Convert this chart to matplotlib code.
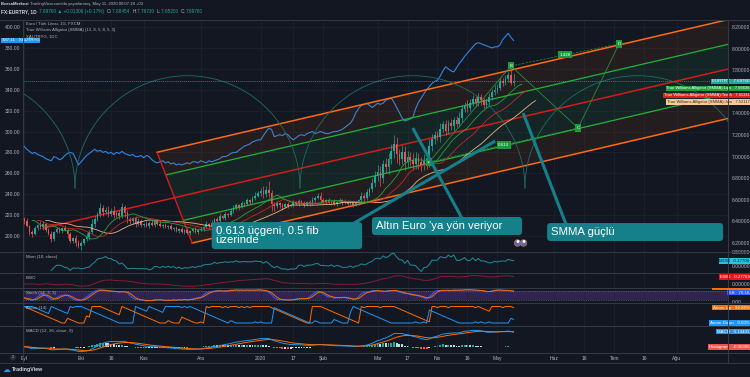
import numpy as np
import pandas as pd
import matplotlib
matplotlib.use("Agg")
import matplotlib.pyplot as plt
import matplotlib.transforms as mtransforms
from matplotlib.patches import FancyBboxPatch, Ellipse, Rectangle
from matplotlib.lines import Line2D

plt.rcParams['font.family'] = ['Liberation Sans', 'DejaVu Sans']

# ---------------- data ----------------
first_day = '2019-09-02'
open_first = 6.42
close = (
    [6.40, 6.36, 6.30, 6.28, 6.34, 6.37, 6.35, 6.38, 6.32, 6.28, 6.24, 6.30, 6.33, 6.31, 6.34, 6.32, 6.28, 6.22, 6.25, 6.20, 6.17]
    + [6.20, 6.24, 6.26, 6.30, 6.38, 6.42, 6.47, 6.52, 6.49, 6.51, 6.47, 6.50, 6.46, 6.48, 6.45, 6.53, 6.48, 6.42, 6.40, 6.43, 6.38, 6.40, 6.37]
    + [6.38, 6.36, 6.39, 6.37, 6.40, 6.38, 6.36, 6.37, 6.35, 6.36, 6.33, 6.34, 6.31, 6.33, 6.30, 6.32, 6.29, 6.31, 6.33, 6.30, 6.32]
    + [6.33, 6.35, 6.38, 6.36, 6.39, 6.42, 6.40, 6.45, 6.43, 6.47, 6.46, 6.50, 6.52, 6.55, 6.53, 6.57, 6.56, 6.60, 6.58, 6.62, 6.64, 6.66]
    + [6.68, 6.65, 6.69, 6.66, 6.56, 6.54, 6.57, 6.55, 6.53, 6.56, 6.54, 6.55, 6.58, 6.56, 6.59, 6.57, 6.55, 6.58, 6.56, 6.60, 6.62, 6.64, 6.60]
    + [6.58, 6.60, 6.57, 6.59, 6.56, 6.58, 6.60, 6.57, 6.59, 6.56, 6.58, 6.55, 6.57, 6.60, 6.64, 6.62, 6.67, 6.70, 6.76, 6.82]
    + [6.86, 6.80, 6.93, 6.90, 6.98, 7.05, 7.12, 7.02, 6.98, 7.04, 6.95, 7.00, 6.97, 6.93, 6.99, 6.95, 6.92, 6.96, 6.94, 7.10, 7.16, 7.20]
    + [7.18, 7.26, 7.30, 7.24, 7.31, 7.28, 7.34, 7.30, 7.36, 7.44, 7.48, 7.45, 7.50, 7.53, 7.50, 7.55, 7.52, 7.48, 7.51, 7.55, 7.60, 7.62]
    + [7.64, 7.70, 7.68, 7.72, 7.76, 7.68454, 7.6976]
)
# wick lengths in kurus (0.01 TRY)
wick_up = (
    [2, 3, 1, 2, 2, 1, 3, 2, 1, 2, 3, 1, 2, 2, 1, 3, 2, 2, 1, 2, 3]
    + [2, 1, 3, 2, 4, 3, 2, 5, 3, 2, 3, 2, 4, 2, 3, 4, 2, 3, 2, 1, 2, 3, 2]
    + [1, 2, 1, 2, 1, 2, 3, 1, 2, 1, 2, 1, 2, 1, 2, 1, 2, 1, 1, 2, 1]
    + [2, 1, 2, 1, 2, 1, 2, 3, 1, 2, 1, 2, 3, 2, 1, 2, 1, 2, 1, 2, 3, 2]
    + [3, 5, 4, 8, 3, 2, 2, 1, 2, 1, 2, 1, 2, 1, 2, 1, 2, 1, 2, 3, 2, 2, 3]
    + [2, 1, 2, 1, 2, 1, 2, 1, 2, 1, 2, 1, 2, 1, 3, 2, 3, 2, 4, 5]
    + [6, 5, 4, 6, 5, 7, 8, 6, 5, 7, 6, 5, 4, 6, 5, 4, 5, 6, 4, 6, 5, 4]
    + [4, 5, 3, 4, 3, 4, 3, 4, 5, 4, 3, 4, 3, 4, 3, 4, 3, 2, 3, 4, 3, 4]
    + [3, 4, 3, 4, 2, 4, 7]
)
wick_dn = (
    [2, 1, 3, 2, 1, 2, 2, 3, 2, 1, 3, 2, 1, 2, 2, 1, 3, 2, 2, 3, 2]
    + [3, 2, 2, 3, 2, 3, 2, 3, 4, 2, 3, 2, 3, 2, 3, 2, 4, 3, 2, 2, 3, 2, 2]
    + [2, 1, 2, 1, 2, 1, 1, 2, 1, 2, 1, 2, 1, 2, 1, 2, 1, 2, 1, 1, 2]
    + [1, 2, 1, 2, 1, 2, 1, 2, 1, 2, 2, 1, 2, 1, 2, 1, 2, 1, 2, 1, 2, 1]
    + [2, 3, 2, 3, 6, 4, 2, 3, 2, 1, 2, 1, 2, 1, 2, 1, 2, 1, 2, 1, 2, 1, 3]
    + [1, 2, 1, 2, 1, 2, 1, 2, 1, 2, 1, 2, 1, 2, 2, 3, 2, 3, 3, 4]
    + [5, 7, 4, 5, 6, 5, 6, 8, 6, 5, 7, 5, 6, 5, 4, 6, 5, 4, 5, 4, 5, 4]
    + [3, 4, 3, 4, 3, 3, 4, 3, 3, 4, 3, 4, 3, 3, 4, 3, 4, 3, 3, 3, 3, 3]
    + [3, 2, 3, 2, 3, 2, 3]
)
# gram gold in TRY (left scale)
gold = [
    286, 283, 281, 279, 280, 278, 277, 276, 274, 273,
    272, 276, 275, 273, 274, 277, 279, 280, 279, 274,
    268, 271, 274, 277, 279, 281, 283, 281, 282, 280,
    281, 279, 280, 278, 280, 279, 281, 279, 278, 277,
    278, 276, 276, 277, 275, 277, 276, 273, 271, 270,
    271, 272, 270, 271, 269, 270, 268, 269, 268, 269,
    270, 269, 271, 271, 270, 272, 271, 270, 272, 271,
    272, 273, 274, 276, 276, 277, 279, 280, 280, 282,
    284, 286, 287, 288, 290, 291, 292, 292, 296, 300,
    303, 302, 295, 296, 297, 296, 298, 297, 294, 292,
    294, 296, 297, 296, 298, 299, 300, 298, 299, 300,
    299, 298, 298, 299, 300, 300, 301, 302, 304, 306,
    308, 312, 318, 322, 325, 326, 327, 325, 323, 325,
    327, 326, 327, 330, 331, 332, 328, 323, 318, 313,
    310, 311, 312, 314, 322, 328, 332, 336, 340, 343,
    346, 348, 349, 353, 358, 362, 360, 358, 357, 361,
    365, 368, 372, 375, 378, 381, 384, 385, 384, 383,
    382, 381, 380, 381, 381, 383, 388, 391, 394, 390,
    387.11,
]
assert len(close) == len(wick_up) == len(wick_dn) == len(gold) == 181

tick_dates = ['2019-09-02', '2019-10-01', '2019-10-16', '2019-11-01', '2019-12-02',
              '2020-01-01', '2020-01-17', '2020-02-03', '2020-03-02', '2020-03-17',
              '2020-04-01', '2020-04-16', '2020-05-01', '2020-06-01', '2020-06-16',
              '2020-07-01', '2020-07-16', '2020-08-03']
tick_labels = ['Eyl', 'Eki', '16', 'Kas', 'Ara', '2020', '17', 'Şub', 'Mar', '17',
               'Nis', '16', 'May', 'Haz', '16', 'Tem', '16', 'Ağu']
price_ticks = [6.2, 6.4, 6.6, 6.8, 7.0, 7.2, 7.4, 7.8, 8.0, 8.2]

# drawings (bar index, price)
fork_p1 = (7.0, 6.337)
fork_p2 = (48.9, 7.040)
fork_p3 = (61.8, 6.200)
cycle_start, cycle_len, cycle_base, cycle_height = 18.75, 82.7, 6.709, 1.04
abcd_bars = [148.9, 179.0, 203.7, 218.75]
abcd_prices = [6.95, 7.84, 7.265, 8.043]
abcd_names = ['A', 'B', 'C', 'D']
abcd_ratios = ['0.613', '1.428']

# last values shown in the scale labels
last_eurtry, last_gold = 7.69760, 387.11
alligator_last = [('Lips', 7.66636), ('Teeth', 7.61311), ('Jaw', 7.52117)]
mom_last, ewo_last, k_last = 0.17700, 0.27769, 70.18
aroon_up_last, aroon_dn_last = 92.86, 0.00
macd_last, hist_last = 0.13431, -0.00385

# ---------------- style ----------------
BG = '#131722'
GRID = '#1f2330'
SEP = '#363a45'
TXT = '#b2b5be'
UP, DN = '#26a69a', '#ef5350'
TEAL_BOX = '#16808a'
W, H = 750, 377
X0, X1 = 22.5, 728

fig = plt.figure(figsize=(W / 100, H / 100), dpi=100, facecolor=BG)


def panel(y0, y1):
    a = fig.add_axes([X0 / W, 1 - y1 / H, (X1 - X0) / W, (y1 - y0) / H])
    a.set_facecolor(BG)
    for s in a.spines.values():
        s.set_visible(False)
    return a


ax = panel(20, 252)
axe = ax.twinx()
for s in axe.spines.values():
    s.set_visible(False)
axm = panel(252, 273)
axw = panel(273, 288)
axs = panel(288, 303)
axa = panel(303, 326)
axc = panel(326, 353)

days = pd.bdate_range(first_day, '2020-08-31')
tick_pos = days.get_indexer(pd.to_datetime(tick_dates))
idx = np.arange(len(close))
xlim = (-0.55, 258.8)

for a in [ax, axe, axm, axw, axs, axa, axc]:
    a.set_xlim(*xlim)
    a.set_xticks(tick_pos)
    a.tick_params(length=0, labelbottom=False, labelsize=3.6, colors=TXT)
for a in [ax, axm, axw, axs, axa, axc]:
    a.grid(axis='x', color=GRID, lw=0.5)
axc.set_xticklabels(tick_labels)
axc.tick_params(axis='x', labelbottom=True, pad=2.5)

# gold (left scale)
ax.set_ylim(184.7, 406.7)
ax.set_yticks(np.arange(200, 401, 20))
ax.yaxis.set_major_formatter('{x:.2f}')
ax.tick_params(axis='y', labelleft=True, pad=1.5)
ax.grid(axis='y', color=GRID, lw=0.5)
ax.plot(idx, gold, color='#2f86e0', lw=0.8, zorder=2)

# EURTRY (right scale)
axe.set_ylim(6.117, 8.265)
axe.set_yticks(price_ticks)
axe.yaxis.set_major_formatter('{x:.5f}')
axe.tick_params(axis='y', labelright=True, labelleft=False, pad=3)

o = np.array([open_first] + close[:-1])
c = np.array(close)
hi = np.maximum(o, c) + np.array(wick_up) / 100
lo = np.minimum(o, c) - np.array(wick_dn) / 100

# pitchfork
p1, p2, p3 = np.array(fork_p1), np.array(fork_p2), np.array(fork_p3)
mid = (p2 + p3) / 2
slope = (mid[1] - p1[1]) / (mid[0] - p1[0])
x_end = 275


def ray_end(pt):
    return np.array([x_end, pt[1] + slope * (x_end - pt[0])])


def lvl(f, side):
    return mid + f * (side - mid)


for f1, f2, col, al in [(0, 0.5, '#2e9e45', 0.10), (0.5, 1.0, '#ff6d00', 0.07)]:
    for side in (p2, p3):
        a1, a2 = lvl(f1, side), lvl(f2, side)
        e1, e2 = ray_end(a1), ray_end(a2)
        axe.fill([a1[0], e1[0], e2[0], a2[0]], [a1[1], e1[1], e2[1], a2[1]],
                 color=col, alpha=al, lw=0, zorder=1)
for f, col, lw in [(0.5, '#22b33a', 0.9), (1.0, '#ff6a13', 1.1)]:
    for side in (p2, p3):
        a1 = lvl(f, side)
        e1 = ray_end(a1)
        axe.plot([a1[0], e1[0]], [a1[1], e1[1]], color=col, lw=lw, zorder=2)
e = ray_end(p1)
axe.plot([p1[0], e[0]], [p1[1], e[1]], color='#d41c1c', lw=1.1, zorder=2)
axe.plot([p2[0], p3[0]], [p2[1], p3[1]], color='#d41c1c', lw=1.0, zorder=2)

# time cycles
t = np.linspace(0, np.pi, 120)
for k in range(-1, 3):
    cx = cycle_start + (k + 0.5) * cycle_len
    axe.plot(cx + cycle_len / 2 * np.cos(t), cycle_base + cycle_height * np.sin(t),
             color='#1f6e66', lw=0.6, zorder=2)

# price line
axe.axhline(last_eurtry, color='#26a69a', lw=0.5, ls=(0, (1.5, 1.5)), zorder=2)

# candles
cols = np.where(c >= o, UP, DN)
axe.vlines(idx, lo, hi, colors=cols, lw=0.5, zorder=3)
axe.bar(idx, np.maximum(np.abs(c - o), 0.004), bottom=np.minimum(o, c), width=0.6,
        color=cols, lw=0, zorder=3)

# alligator (SMMA of hl2)
hl2 = pd.Series((hi + lo) / 2)


def smma(n):
    return hl2.ewm(alpha=1 / n, adjust=False).mean().values


axe.plot(idx + 8, smma(13), color='#e6b88a', lw=0.6, zorder=4)
axe.plot(idx + 5, smma(8), color='#c62828', lw=0.6, zorder=4)
axe.plot(idx + 3, smma(5), color='#2e9e3e', lw=0.6, zorder=4)

# ABCD pattern
ab_col = '#2e8b3e'
axe.plot(abcd_bars, abcd_prices, color=ab_col, lw=0.6, zorder=5)
axe.plot([abcd_bars[0], abcd_bars[2]], [abcd_prices[0], abcd_prices[2]], color=ab_col, lw=0.5, ls='--', zorder=5)
axe.plot([abcd_bars[1], abcd_bars[3]], [abcd_prices[1], abcd_prices[3]], color=ab_col, lw=0.5, ls='--', zorder=5)
for xb, yp, nm in zip(abcd_bars, abcd_prices, abcd_names):
    axe.text(xb, yp, nm, fontsize=3.2, color='white', ha='center', va='center', zorder=6,
             bbox=dict(boxstyle='square,pad=0.35', fc='#1c9b3c', ec='none'))
for (i0, i1), r in zip([(0, 2), (1, 3)], abcd_ratios):
    axe.text((abcd_bars[i0] + abcd_bars[i1]) / 2, (abcd_prices[i0] + abcd_prices[i1]) / 2, r,
             fontsize=3.2, color='white', ha='center', va='center', zorder=6,
             bbox=dict(boxstyle='square,pad=0.35', fc='#1c9b3c', ec='none'))

# callouts: (box bar0, bar1, price0, price1), text, pointer from, pointer to
callouts = [
    ((69.0, 124.3, 6.144, 6.394), '0.613 üçgeni, 0.5 fib\nüzerinde', (121.0, 6.38), (173.2, 7.144)),
    ((127.9, 183.1, 6.274, 6.441), "Altın Euro 'ya yön veriyor", (161.0, 6.43), (142.9, 7.265)),
    ((192.3, 257.0, 6.219, 6.385), 'SMMA güçlü', (199.3, 6.37), (183.5, 7.404)),
]
for (b0, b1, q0, q1), txt, pf, pt in callouts:
    axe.plot([pf[0], pt[0]], [pf[1], pt[1]], color=TEAL_BOX, lw=2.2, solid_capstyle='butt', zorder=7)
    axe.add_patch(FancyBboxPatch((b0, q0), b1 - b0, q1 - q0,
                                 boxstyle='round,pad=0,rounding_size=1.3', mutation_aspect=0.025,
                                 fc=TEAL_BOX, ec='none', zorder=8))
    axe.text(b0 + 1.4, (q0 + q1) / 2, txt, fontsize=8.2, color='white', ha='left', va='center',
             linespacing=0.9, zorder=9)


# scale labels
def rlabel(a, yval, text, bg, fg='white', dy=0, x_px=749.5, ha='right', size=3.2):
    tr = mtransforms.blended_transform_factory(fig.transFigure, a.transData)
    a.annotate(text, xy=(x_px / W, yval), xycoords=tr, xytext=(0, dy), textcoords='offset points',
               ha=ha, va='center', fontsize=size, color=fg, annotation_clip=False, zorder=20,
               bbox=dict(boxstyle='square,pad=0.15', fc=bg, ec='none'))


rlabel(axe, last_eurtry, 'EURTRY   7.69760', '#26a69a')
ali_cols = {'Lips': ('#1e9e3a', 'white'), 'Teeth': ('#e01f1f', 'white'), 'Jaw': ('#f7c99c', '#3a2a1a')}
for k, (nm, v) in enumerate(alligator_last):
    bg, fg = ali_cols[nm]
    rlabel(axe, last_eurtry, f'True Williams Alligator (SMMA):{nm}   {v:.5f}', bg, fg,
           dy=-5.0 * (k + 1), size=3.0)
rlabel(ax, last_gold, f'{last_gold:.2f}   XAUTRYG', '#2196f3', x_px=2, ha='left')

# ---------------- indicators ----------------
cs, hs, ls_ = pd.Series(c), pd.Series(hi), pd.Series(lo)

mom = cs - cs.shift(10)
axm.plot(idx, mom, color='#1f8f99', lw=0.7)
axm.set_ylim(-0.25, 0.5)
axm.set_yticks([0.0, 0.5])
axm.yaxis.set_major_formatter('{x:.5f}')
axm.yaxis.tick_right()
axm.tick_params(axis='y', pad=3)
rlabel(axm, mom_last, 'MOM   0.17700', '#26c6da', fg='#131722')

ewo = cs.rolling(5, min_periods=1).mean() - cs.rolling(35, min_periods=1).mean()
axw.plot(idx, ewo, color='#8a1c30', lw=0.7)
axw.set_ylim(-0.16, 0.44)
axw.set_yticks([0.0])
axw.yaxis.set_major_formatter('{x:.5f}')
axw.yaxis.tick_right()
axw.tick_params(axis='y', pad=3)
rlabel(axw, ewo_last, 'EWO   0.27769', '#f0131e')

ll = ls_.rolling(14, min_periods=1).min()
hh = hs.rolling(14, min_periods=1).max()
k_raw = 100 * (cs - ll) / (hh - ll)
k_line = k_raw.rolling(3, min_periods=1).mean()
d_line = k_line.rolling(3, min_periods=1).mean()
axs.axhspan(20, 80, color='#6a3fb0', alpha=0.35, lw=0)
for lv in (20, 80):
    axs.axhline(lv, color='#787b86', lw=0.4, ls=(0, (2, 2)))
axs.plot(idx, k_line, color='#2962ff', lw=0.7)
axs.plot(idx, d_line, color='#ff6d00', lw=0.7)
axs.set_ylim(-5, 105)
axs.set_yticks([0])
axs.yaxis.set_major_formatter('{x:.2f}')
axs.yaxis.tick_right()
axs.tick_params(axis='y', pad=3)
# %D label mostly hidden behind %K label: only its orange top edge shows
k_fig_y = fig.transFigure.inverted().transform(axs.transData.transform((0, k_last)))[1]
fig.add_artist(Rectangle((712 / W, k_fig_y + 2.5 / H), 37.5 / W, 2.5 / H, transform=fig.transFigure,
                         fc='#ff6d00', ec='none', zorder=30))
rlabel(axs, k_last, '%K   70.18', '#2962ff')

since_hi = hs.rolling(15, min_periods=1).apply(lambda w: len(w) - 1 - np.argmax(w), raw=True)
since_lo = ls_.rolling(15, min_periods=1).apply(lambda w: len(w) - 1 - np.argmin(w), raw=True)
aroon_up = 100 * (14 - since_hi) / 14
aroon_dn = 100 * (14 - since_lo) / 14
axa.plot(idx, aroon_up, color='#ff6d00', lw=0.7)
axa.plot(idx, aroon_dn, color='#2196f3', lw=0.7)
axa.set_ylim(-18, 121)
axa.set_yticks([])
rlabel(axa, aroon_up_last, 'Aroon Up   92.86%', '#ff6d00')
rlabel(axa, aroon_dn_last, 'Aroon Down   0.00%', '#2196f3')

macd = cs.ewm(span=12, adjust=False).mean() - cs.ewm(span=26, adjust=False).mean()
signal = macd.ewm(span=9, adjust=False).mean()
hist = (macd - signal).values
prev = np.r_[0, hist[:-1]]
hcol = np.where(hist >= 0, np.where(hist >= prev, '#26a69a', '#b2dfdb'),
                np.where(hist <= prev, '#ff5252', '#ffcdd2'))
axc.bar(idx, hist, width=0.7, color=hcol, lw=0)
axc.plot(idx, macd, color='#2196f3', lw=0.7)
axc.plot(idx, signal, color='#ff6d00', lw=0.7)
axc.set_ylim(-0.056, 0.185)
axc.set_yticks([])
rlabel(axc, macd_last, 'MACD   0.13431', '#2196f3')
rlabel(axc, hist_last, 'Histogram   -0.00385', '#ef5350')

# panel titles
for a, title in [(axm, 'Mom (10, close)'), (axw, 'EWO'), (axs, 'Stoch (14, 3, 3)'),
                 (axa, 'Aroon (14)'), (axc, 'MACD (12, 26, close, 9)')]:
    a.text(3.5 / (X1 - X0), 1 - 5 / (a.bbox.height), title, transform=a.transAxes,
           fontsize=3.2, color=TXT, va='center', ha='left')

# ---------------- frame / separators ----------------
for y in [19.5, 252, 273, 288, 303, 326, 353, 363]:
    fig.add_artist(Line2D([0, 1], [1 - y / H] * 2, transform=fig.transFigure, color=SEP, lw=0.7))
for x in [X0, X1]:
    fig.add_artist(Line2D([x / W] * 2, [1 - 363 / H, 1 - 19.5 / H], transform=fig.transFigure,
                          color=SEP, lw=0.7))

# ---------------- header / legend texts ----------------
renderer = fig.canvas.get_renderer()


def seq_text(x_px, y_px, parts, size):
    x = x_px
    for s, col, wt in parts:
        tx = fig.text(x / W, 1 - y_px / H, s, color=col, fontsize=size, fontweight=wt,
                      va='center', ha='left')
        x += tx.get_window_extent(renderer=renderer).width


seq_text(1, 4, [('BorsaMerkezi ', '#d1d4dc', 'bold'),
                ("TradingView.com'da yayınlanmış, May 11, 2020 00:07:18 +03", TXT, 'normal')], 3.1)
G = '#26a69a'
seq_text(1, 11.5, [('FX:EURTRY, 1D  ', '#d1d4dc', 'bold'), ('7.69760 ▲ +0.01306 (+0.17%)  ', G, 'normal'),
                   ('O:', TXT, 'normal'), ('7.68454  ', G, 'normal'), ('H:', TXT, 'normal'),
                   ('7.76730  ', G, 'normal'), ('L:', TXT, 'normal'), ('7.65200  ', G, 'normal'),
                   ('C:', TXT, 'normal'), ('7.69760', G, 'normal')], 3.4)
for y, s in [(23.5, 'Euro / Türk Lirası, 1G, FXCM'),
             (30, 'True Williams Alligator (SMMA) (13, 8, 5, 8, 5, 3)'),
             (36.5, 'XAUTRYG, 1DC')]:
    fig.text(26 / W, 1 - y / H, s, fontsize=3.1, color=TXT, va='center', ha='left')

# footer
fig.text(3 / W, 1 - 370 / H, '☁', fontsize=5.5, color='#2196f3', va='center', ha='left',
         family='DejaVu Sans')
fig.text(12 / W, 1 - 370 / H, 'TradingView', fontsize=3.8, color='#d1d4dc', va='center', ha='left',
         fontweight='bold')
fig.text(13 / W, 1 - 357.5 / H, '2', fontsize=2.8, color=TXT, va='center', ha='center',
         bbox=dict(boxstyle='circle,pad=0.25', fc='#2a2e39', ec='none'))

# eyes sticker
for ex in (517.5, 523.5):
    fig.add_artist(Ellipse((ex / W, 1 - 243 / H), 6.5 / W, 6.5 / H, transform=fig.transFigure,
                           fc='#5566c0', ec='#b07030', lw=0.6))
    fig.add_artist(Ellipse(((ex + 0.5) / W, 1 - 241.5 / H), 3 / W, 3 / H, transform=fig.transFigure,
                           fc='white', ec='none'))

fig.savefig('out.png', dpi=100, facecolor=BG)
